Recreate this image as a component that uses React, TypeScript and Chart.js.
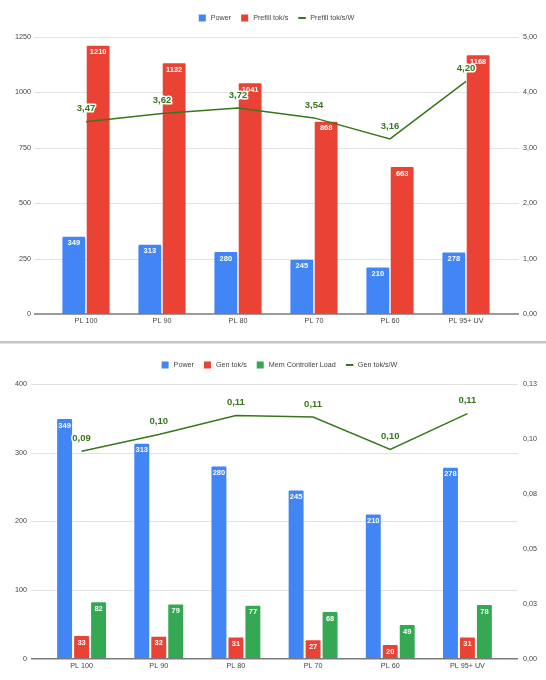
import { useEffect, useRef } from "react"
import { Chart, registerables } from "chart.js"

Chart.register(...registerables)

const FONT = "'Liberation Sans', Arial, sans-serif"

const categories = ["PL 100", "PL 90", "PL 80", "PL 70", "PL 60", "PL 95+ UV"]

// Prefill chart
const power = [349, 313, 280, 245, 210, 278]
const prefillTokS = [1210, 1132, 1041, 868, 663, 1168]
const prefillTokSW = [3.47, 3.62, 3.72, 3.54, 3.16, 4.2]
const prefillLeftTicks = [0, 250, 500, 750, 1000, 1250]
const prefillRightTicks = [0, 1, 2, 3, 4, 5]

// Gen chart
const genTokS = [33, 32, 31, 27, 20, 31]
const memControllerLoad = [82, 79, 77, 68, 49, 78]
const genTokSW = [0.0944, 0.102, 0.1107, 0.110, 0.0952, 0.1115]
const genLeftTicks = [0, 100, 200, 300, 400]
const genRightTicks = [0, 0.025, 0.05, 0.075, 0.1, 0.125]

const BLUE = "#4285f4"
const RED = "#ea4335"
const GREEN = "#34a853"
const DARK_GREEN = "#38761d"

const comma2 = (v: number) => (Math.round(v * 100 + 1e-6) / 100).toFixed(2).replace(".", ",")

type Series = { label: string; data: number[]; color: string; kind: "bar" | "line" }

// horizontal grid lines that run a bit past the plot, like the sheets chart
const sheetGrid = {
  id: "sheetGrid",
  beforeDatasetsDraw(chart: any, _args: any, opts: any) {
    const { ctx, chartArea } = chart
    const y = chart.scales.y
    const x0 = chartArea.left - opts.padLeft
    const x1 = chartArea.right + opts.padRight
    ctx.save()
    ctx.strokeStyle = "#e2e2e2"
    ctx.lineWidth = 1
    y.ticks.forEach((t: any) => {
      if (t.value === 0) return
      const py = Math.round(y.getPixelForValue(t.value)) + 0.5
      ctx.beginPath()
      ctx.moveTo(x0, py)
      ctx.lineTo(x1, py)
      ctx.stroke()
    })
    ctx.restore()
  },
  afterDatasetsDraw(chart: any, _args: any, opts: any) {
    const { ctx, chartArea } = chart
    const py = chart.scales.y.getPixelForValue(0)
    ctx.save()
    ctx.strokeStyle = "#7a7a7a"
    ctx.lineWidth = 1.5
    ctx.beginPath()
    ctx.moveTo(chartArea.left - opts.padLeft, py)
    ctx.lineTo(chartArea.right + opts.padRight, py)
    ctx.stroke()
    ctx.restore()
  },
}

// value labels: white inside bars, green with halo above the line
const valueLabels = {
  id: "valueLabels",
  afterDatasetsDraw(chart: any) {
    const { ctx } = chart
    ctx.save()
    ctx.textAlign = "center"
    ctx.textBaseline = "middle"
    chart.data.datasets.forEach((ds: any, i: number) => {
      const meta = chart.getDatasetMeta(i)
      meta.data.forEach((el: any, j: number) => {
        const v = ds.data[j]
        if (ds.type === "bar") {
          ctx.font = `bold 7.5px ${FONT}`
          ctx.fillStyle = "#ffffff"
          ctx.fillText(String(v), el.x, el.y + 6.5)
        } else {
          const txt = comma2(v)
          ctx.font = `bold 9.5px ${FONT}`
          ctx.lineJoin = "round"
          ctx.lineWidth = 3
          ctx.strokeStyle = "#ffffff"
          ctx.strokeText(txt, el.x, el.y - 13)
          ctx.fillStyle = ds.borderColor
          ctx.fillText(txt, el.x, el.y - 13)
        }
      })
    })
    ctx.restore()
  },
}

const sheetLegend = {
  id: "sheetLegend",
  afterDraw(chart: any, _args: any, opts: any) {
    const { ctx } = chart
    ctx.save()
    ctx.font = `7.2px ${FONT}`
    ctx.textBaseline = "middle"
    ctx.textAlign = "left"
    const items = chart.data.datasets.map((ds: any) => ({
      text: ds.label,
      color: ds.type === "line" ? ds.borderColor : ds.backgroundColor,
      line: ds.type === "line",
    }))
    const widths = items.map((it: any) => 12 + ctx.measureText(it.text).width)
    const total = widths.reduce((a: number, b: number) => a + b, 0) + 10 * (items.length - 1)
    let x = opts.cx - total / 2
    const y = opts.cy
    items.forEach((it: any, i: number) => {
      ctx.fillStyle = it.color
      if (it.line) {
        ctx.fillRect(x, y - 1, 7.5, 2)
      } else {
        ctx.fillRect(x, y - 3.5, 7, 7)
      }
      ctx.fillStyle = "#444444"
      ctx.fillText(it.text, x + 12, y + 0.5)
      x += widths[i] + 10
    })
    ctx.restore()
  },
}

interface ComboChartProps {
  height: number
  series: Series[]
  leftTicks: number[]
  rightTicks: number[]
  leftFormat: (v: number) => string
  area: { top: number; left: number; right: number; bottom: number }
  gridPad: [number, number]
  tickPad: [number, number]
  catPct: number
  barPct: number
  legend: { cx: number; cy: number }
}

function ComboChart(props: ComboChartProps) {
  const chartRef = useRef<HTMLCanvasElement>(null)
  const chartInstance = useRef<Chart | null>(null)

  useEffect(() => {
    if (!chartRef.current) return
    if (chartInstance.current) chartInstance.current.destroy()

    const { height, series, leftTicks, rightTicks, area } = props
    const tickFont = { family: FONT, size: 7.2 }

    const datasets: any[] = series.map((s) =>
      s.kind === "bar"
        ? {
            type: "bar",
            label: s.label,
            data: s.data,
            backgroundColor: s.color,
            yAxisID: "y",
            order: 1,
            categoryPercentage: props.catPct,
            barPercentage: props.barPct,
            borderRadius: 1,
          }
        : {
            type: "line",
            label: s.label,
            data: s.data,
            borderColor: s.color,
            backgroundColor: s.color,
            borderWidth: 1.5,
            pointRadius: 0,
            yAxisID: "y1",
            order: 0,
            tension: 0,
          },
    )

    const ctx = chartRef.current.getContext("2d")
    if (ctx) {
      chartInstance.current = new Chart(ctx, {
        type: "bar",
        data: { labels: categories, datasets },
        plugins: [sheetGrid, valueLabels, sheetLegend],
        options: {
          animation: false,
          responsive: true,
          maintainAspectRatio: false,
          layout: { padding: { top: area.top, left: 0, right: 0, bottom: 0 } },
          plugins: {
            legend: { display: false },
            tooltip: { enabled: false },
            sheetGrid: { padLeft: props.gridPad[0], padRight: props.gridPad[1] },
            sheetLegend: props.legend,
          } as any,
          scales: {
            x: {
              grid: { display: false, drawTicks: false },
              border: { display: false },
              ticks: { font: tickFont, color: "#444444", padding: 3, maxRotation: 0, autoSkip: false },
              afterFit: (s: any) => {
                s.height = height - area.bottom
              },
            },
            y: {
              position: "left",
              min: leftTicks[0],
              max: leftTicks[leftTicks.length - 1],
              afterBuildTicks: (s: any) => {
                s.ticks = leftTicks.map((v) => ({ value: v }))
              },
              grid: { display: false, drawTicks: false },
              border: { display: false },
              ticks: {
                font: tickFont,
                color: "#444444",
                padding: props.tickPad[0],
                callback: (v: any) => props.leftFormat(Number(v)),
              },
              afterFit: (s: any) => {
                s.width = area.left
              },
            },
            y1: {
              position: "right",
              min: rightTicks[0],
              max: rightTicks[rightTicks.length - 1],
              afterBuildTicks: (s: any) => {
                s.ticks = rightTicks.map((v) => ({ value: v }))
              },
              grid: { display: false, drawTicks: false },
              border: { display: false },
              ticks: {
                font: tickFont,
                color: "#444444",
                padding: props.tickPad[1],
                callback: (v: any) => comma2(Number(v)),
              },
              afterFit: (s: any) => {
                s.width = 546 - area.right
              },
            },
          },
        } as any,
      })
    }

    return () => {
      if (chartInstance.current) {
        chartInstance.current.destroy()
        chartInstance.current = null
      }
    }
  }, [])

  return (
    <div style={{ position: "relative", width: 546, height: props.height }}>
      <canvas ref={chartRef} />
    </div>
  )
}

export default function App() {
  useEffect(() => {
    document.body.style.margin = "0"
  }, [])

  return (
    <div style={{ width: 546, height: 680, background: "#ffffff" }}>
      <ComboChart
        height={340}
        series={[
          { label: "Power", data: power, color: BLUE, kind: "bar" },
          { label: "Prefill tok/s", data: prefillTokS, color: RED, kind: "bar" },
          { label: "Prefill tok/s/W", data: prefillTokSW, color: DARK_GREEN, kind: "line" },
        ]}
        leftTicks={prefillLeftTicks}
        rightTicks={prefillRightTicks}
        leftFormat={(v) => String(v)}
        area={{ top: 37, left: 48, right: 504, bottom: 314 }}
        gridPad={[14, 15]}
        tickPad={[17, 19]}
        catPct={0.64}
        barPct={0.94}
        legend={{ cx: 276.5, cy: 18 }}
      />
      <div style={{ height: 1, background: "#ffffff" }} />
      <div style={{ height: 2, background: "#c4c4c4" }} />
      <div style={{ height: 1, background: "#e2e2e2" }} />
      <ComboChart
        height={336}
        series={[
          { label: "Power", data: power, color: BLUE, kind: "bar" },
          { label: "Gen tok/s", data: genTokS, color: RED, kind: "bar" },
          { label: "Mem Controller Load", data: memControllerLoad, color: GREEN, kind: "bar" },
          { label: "Gen tok/s/W", data: genTokSW, color: DARK_GREEN, kind: "line" },
        ]}
        leftTicks={genLeftTicks}
        rightTicks={genRightTicks}
        leftFormat={(v) => String(v)}
        area={{ top: 40, left: 43, right: 506, bottom: 317 }}
        gridPad={[12, 12]}
        tickPad={[16, 17]}
        catPct={0.66}
        barPct={0.88}
        legend={{ cx: 279.5, cy: 21 }}
      />
    </div>
  )
}
